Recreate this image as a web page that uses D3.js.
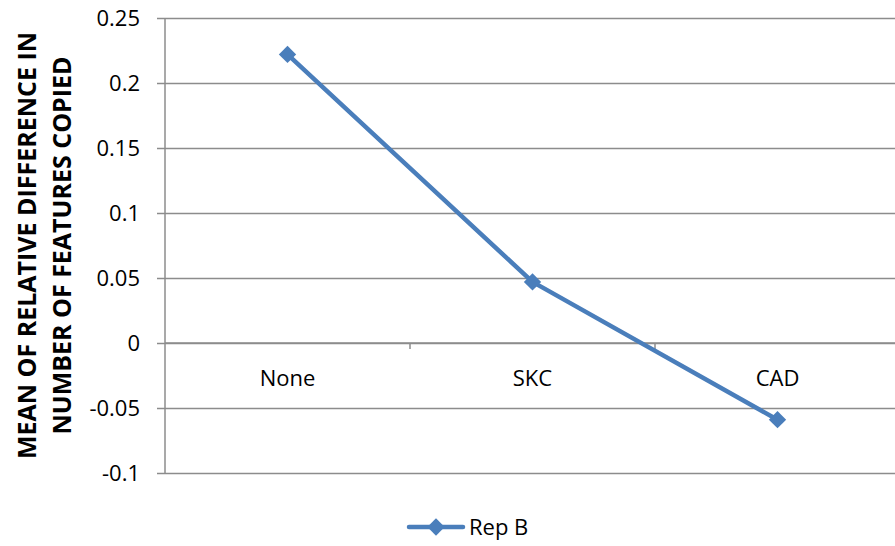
<!DOCTYPE html>
<html>
<head>
<meta charset="utf-8">
<script src="https://cdn.jsdelivr.net/npm/d3@7"></script>
<style>
  body { margin: 0; background: #fff; }
  text { font-family: "Open Sans", "Noto Sans", sans-serif; fill: #000; }
</style>
</head>
<body>
<div id="chart"></div>
<script>
const categories = ["None", "SKC", "CAD"];
const repB = [0.222, 0.047, -0.059];
const yTicks = [-0.1, -0.05, 0, 0.05, 0.1, 0.15, 0.2, 0.25];
const yTickLabels = ["-0.1", "-0.05", "0", "0.05", "0.1", "0.15", "0.2", "0.25"];
const seriesName = "Rep B";
const yTitle = ["MEAN OF RELATIVE DIFFERENCE IN", "NUMBER OF FEATURES COPIED"];

const width = 895, height = 546;
const margin = { left: 165, right: -5, top: 18, bottom: 73 };
const innerWidth = width - margin.left - margin.right,
      innerHeight = height - margin.top - margin.bottom;
const blue = "#4a7ebb", grid = "#8c8c8c";

const svg = d3.select("#chart").append("svg")
    .attr("width", width)
    .attr("height", height);

const g = svg.append("g")
    .attr("transform", "translate(" + margin.left + "," + margin.top + ")");

const xScale = d3.scaleBand().domain(categories).range([0, innerWidth]);
const yScale = d3.scaleLinear().domain([-0.1, 0.25]).range([innerHeight, 0]);

// horizontal gridlines + y labels
const yAxis = g.append("g")
    .call(d3.axisLeft(yScale).tickValues(yTicks).tickSize(-innerWidth)
        .tickFormat((d, i) => yTickLabels[i]));
yAxis.select(".domain").remove();
yAxis.selectAll(".tick line")
    .attr("x1", -8)
    .attr("x2", innerWidth)
    .attr("stroke", grid)
    .attr("stroke-width", 1.5);
yAxis.selectAll(".tick text")
    .attr("x", -25)
    .attr("dy", "0.36em")
    .style("font-size", "22px")
    .style("font-family", "'Open Sans', sans-serif")
    .attr("fill", "#000");

// vertical axis line
g.append("line")
    .attr("x1", 0).attr("x2", 0)
    .attr("y1", 0).attr("y2", innerHeight)
    .attr("stroke", grid).attr("stroke-width", 1.5);

// category axis at zero
const xAxis = g.append("g")
    .attr("transform", "translate(0," + yScale(0) + ")");
xAxis.append("line")
    .attr("x1", 0).attr("x2", innerWidth)
    .attr("stroke", grid).attr("stroke-width", 1.5);
xAxis.selectAll(".xtick")
    .data(categories.slice(1))
    .enter().append("line")
    .attr("x1", d => xScale(d)).attr("x2", d => xScale(d))
    .attr("y1", 0).attr("y2", 6)
    .attr("stroke", grid).attr("stroke-width", 1.5);
xAxis.selectAll(".xlabel")
    .data(categories)
    .enter().append("text")
    .attr("x", d => xScale(d) + xScale.bandwidth() / 2)
    .attr("y", 43)
    .attr("text-anchor", "middle")
    .style("font-size", "22px")
    .text(d => d);

// series line
const pts = categories.map((c, i) => [xScale(c) + xScale.bandwidth() / 2, yScale(repB[i])]);
g.append("path")
    .attr("d", d3.line()(pts))
    .attr("fill", "none")
    .attr("stroke", blue)
    .attr("stroke-width", 4.5)
    .attr("stroke-linejoin", "round");

const diamond = d3.symbol().type(d3.symbolSquare).size(150);
g.selectAll(".marker")
    .data(pts)
    .enter().append("path")
    .attr("d", diamond)
    .attr("transform", d => "translate(" + d[0] + "," + d[1] + ") rotate(45)")
    .attr("fill", blue);

// y title
const title = svg.append("text")
    .attr("transform", "translate(27," + (margin.top + innerHeight / 2) + ") rotate(-90)")
    .attr("text-anchor", "middle")
    .style("font-size", "25px")
    .style("font-weight", "bold");
title.selectAll("tspan")
    .data(yTitle)
    .enter().append("tspan")
    .attr("x", 0)
    .attr("dy", (d, i) => i === 0 ? "0.35em" : "1.4em")
    .text(d => d);

// legend
const legend = svg.append("g").attr("transform", "translate(409,527)");
legend.append("line")
    .attr("x1", 0).attr("x2", 54)
    .attr("stroke", blue).attr("stroke-width", 4.5)
    .attr("stroke-linecap", "round");
legend.append("path")
    .attr("d", diamond)
    .attr("transform", "translate(27,0) rotate(45)")
    .attr("fill", blue);
legend.append("text")
    .attr("x", 60)
    .attr("dy", "0.36em")
    .style("font-size", "22px")
    .text(seriesName);
</script>
</body>
</html>
